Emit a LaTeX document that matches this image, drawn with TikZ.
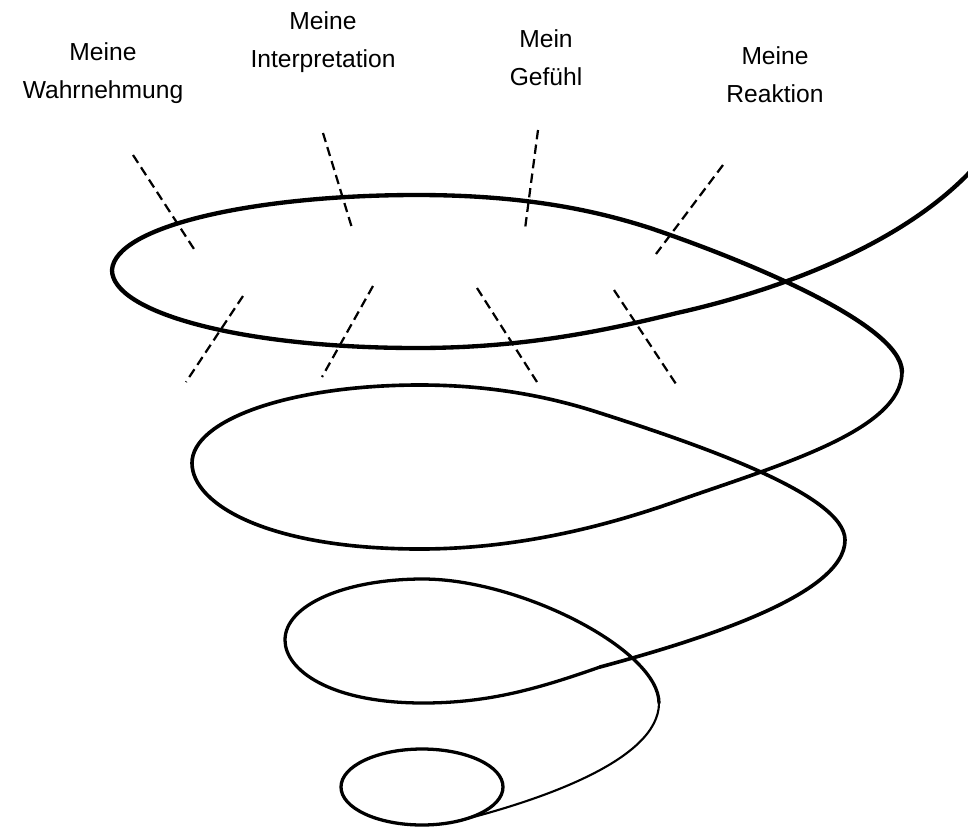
\documentclass[tikz,border=0pt]{standalone}
\usepackage{fontspec}
\setmainfont{Liberation Sans}
\tikzset{
  spi/lbl/.style={font=\fontsize{21}{32}\selectfont, align=center,
    inner sep=0pt, anchor=base},
  spi/bold/.style={line width=3.7pt, line cap=round},
  spi/mid/.style={line width=3.1pt, line cap=round},
  spi/low/.style={line width=2.8pt, line cap=round},
  spi/tail/.style={line width=1.8pt, line cap=round},
  spi/cut/.style={line width=1.9pt, dash pattern=on 8pt off 4.5pt}
}

\begin{document}
\begin{tikzpicture}[x=0.03cm, y=-0.03cm]
    \useasboundingbox (0,0) rectangle (968,827);
    % labels
    \node[spi/lbl] (wahr)   at (103,98)  {Meine\\Wahrnehmung};
    \node[spi/lbl] (interp) at (323,67)  {Meine\\Interpretation};
    \node[spi/lbl] (gef)    at (546,85)  {Mein\\Gef\"uhl};
    \node[spi/lbl] (reak)   at (775,102) {Meine\\Reaktion};
    % upper turn
    \draw[spi/bold] (970,172) .. controls (900,245) and (780,290) .. (677,313)
      .. controls (600,332) and (520,348) .. (417,348)
      .. controls (240,348) and (112,312) .. (112,270)
      .. controls (115,226) and (255,195) .. (417,195)
      .. controls (530,195) and (600,212) .. (650,228)
      .. controls (730,255) and (902,322) .. (902,372);
    % second turn
    \draw[spi/mid] (902,372) .. controls (902,430) and (780,465) .. (680,500)
      .. controls (610,525) and (520,549) .. (420,549)
      .. controls (270,549) and (192,505) .. (192,463)
      .. controls (192,420) and (290,385) .. (420,385)
      .. controls (500,385) and (560,400) .. (600,413)
      .. controls (700,445) and (845,495) .. (845,540)
      .. controls (845,595) and (700,640) .. (600,667);
    % third turn
    \draw[spi/low] (600,667) .. controls (540,688) and (490,703) .. (423,703)
      .. controls (330,703) and (285,670) .. (285,640)
      .. controls (285,605) and (345,579) .. (423,579)
      .. controls (520,579) and (659,650) .. (659,703);
    \draw[spi/tail] (659,703) .. controls (659,760) and (540,800) .. (462,820);
    % innermost loop
    \draw[spi/low] (422,787) ellipse [x radius=81, y radius=38];
    % cuts
    \foreach \a/\b in {{(133,155)/(194,249)}, {(323,133)/(352,228)},
                       {(538,130)/(525,229)}, {(723,165)/(656,254)},
                       {(243,296)/(186,382)}, {(373,286)/(322,377)},
                       {(477,288)/(537,382)}, {(614,290)/(676,384)}}
      \draw[spi/cut] \a -- \b;
\end{tikzpicture}
\end{document}
